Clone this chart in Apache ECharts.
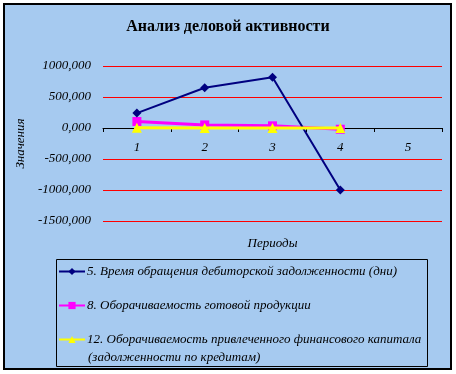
<!DOCTYPE html>
<html>
<head>
<meta charset="utf-8">
<script src="https://cdn.jsdelivr.net/npm/echarts@6/dist/echarts.min.js"></script>
<style>
html,body{margin:0;padding:0;background:#ffffff;}
#chart{width:456px;height:374px;}
</style>
</head>
<body>
<div id="chart"></div>
<script>
const titleText = 'Анализ деловой активности';
const categories = ['1', '2', '3', '4', '5'];
const seriesNames = [
  '5. Время обращения дебиторской задолженности (дни)',
  '8. Оборачиваемость готовой продукции',
  '12. Оборачиваемость привлеченного финансового капитала (задолженности по кредитам)'
];
const legendFirstLine3 = '12. Оборачиваемость привлеченного финансового капитала';
const legendSecondLine3 = '(задолженности по кредитам)';
const receivablesDays = [240, 650, 820, -1000, null];
const finishedGoodsTurnover = [105, 50, 35, -20, null];
const borrowedCapitalTurnover = [3, 2, 1, 0, null];
const yTicks = [-1500, -1000, -500, 0, 500, 1000];
const yAxisName = 'Значения';
const xAxisName = 'Периоды';

const serif = '"Liberation Serif", "Times New Roman", serif';
const chart = echarts.init(document.getElementById('chart'), null, {renderer: 'canvas'});

chart.setOption({
  backgroundColor: '#ffffff',
  animation: false,
  title: {
    text: titleText,
    left: 'center',
    top: 19,
    padding: 0,
    textStyle: {fontFamily: serif, fontWeight: 'bold', fontSize: 16, color: '#000'}
  },
  grid: {left: 103, right: 14, top: 66, bottom: 153, containLabel: false},
  xAxis: {
    type: 'category',
    data: categories,
    boundaryGap: true,
    offset: -93,
    name: xAxisName,
    nameLocation: 'middle',
    nameGap: 109,
    nameTextStyle: {fontFamily: serif, fontStyle: 'italic', fontSize: 13, color: '#000'},
    axisLine: {onZero: false, lineStyle: {color: '#000', width: 1}},
    axisTick: {show: true, alignWithLabel: false, length: 4, lineStyle: {color: '#000'}},
    axisLabel: {fontFamily: serif, fontStyle: 'italic', fontSize: 13, color: '#000', margin: 13},
    splitLine: {show: false}
  },
  yAxis: {
    type: 'value',
    min: yTicks[0],
    max: yTicks[yTicks.length - 1],
    interval: 500,
    name: yAxisName,
    nameLocation: 'middle',
    nameGap: 66,
    nameTextStyle: {fontFamily: serif, fontStyle: 'italic', fontSize: 13, color: '#000'},
    axisLine: {show: false},
    axisTick: {show: false},
    axisLabel: {
      fontFamily: serif, fontStyle: 'italic', fontSize: 13, color: '#000', margin: 12,
      formatter: v => v.toFixed(3).replace('.', ',')
    },
    splitLine: {show: true, lineStyle: {color: '#ff0000', width: 1}}
  },
  legend: {
    orient: 'vertical',
    left: 58,
    top: 265,
    itemWidth: 26,
    itemHeight: 9,
    itemGap: 21,
    padding: 0,
    formatter: name => name === seriesNames[2] ? legendFirstLine3 : name,
    textStyle: {fontFamily: serif, fontStyle: 'italic', fontSize: 13, color: '#000', padding: [0,0,0,-3]},
    data: seriesNames
  },
  graphic: [
    {type: 'rect', shape: {x: 4, y: 4, width: 447, height: 365},
     style: {fill: '#a6caf0', stroke: '#000', lineWidth: 2}, z: -10, silent: true},
    {type: 'rect', shape: {x: 56.5, y: 259.5, width: 371, height: 107},
     style: {fill: 'none', stroke: '#000', lineWidth: 1}, silent: true},
    {type: 'text', left: 88, top: 351,
     style: {text: legendSecondLine3, font: 'italic 13px ' + serif, fill: '#000'}, silent: true}
  ],
  series: [
    {name: seriesNames[0], type: 'line', data: receivablesDays, symbol: 'diamond', symbolSize: 9,
     itemStyle: {color: '#000080'}, lineStyle: {color: '#000080', width: 2}, z: 3},
    {name: seriesNames[1], type: 'line', data: finishedGoodsTurnover, symbol: 'rect', symbolSize: 9,
     itemStyle: {color: '#ff00ff'}, lineStyle: {color: '#ff00ff', width: 3}, z: 2},
    {name: seriesNames[2], type: 'line', data: borrowedCapitalTurnover, symbol: 'triangle', symbolSize: 10,
     itemStyle: {color: '#ffff00'}, lineStyle: {color: '#ffff00', width: 3}, z: 4}
  ]
});
</script>
</body>
</html>
